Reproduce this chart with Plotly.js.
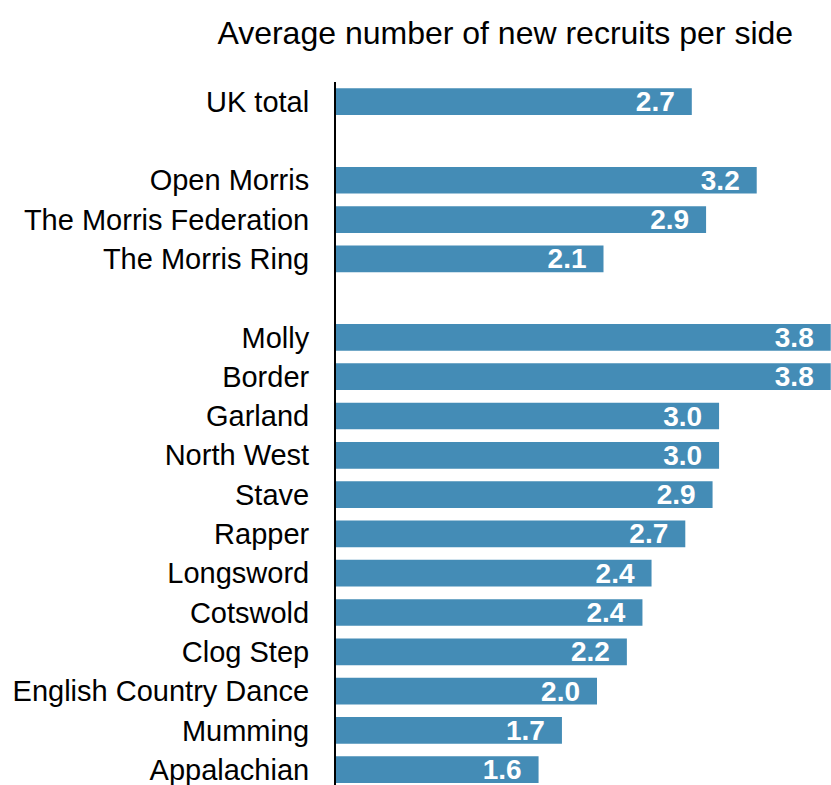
<!DOCTYPE html>
<html>
<head>
<meta charset="utf-8">
<script src="https://cdn.plot.ly/plotly-3.0.1.min.js"></script>
<style>html,body{margin:0;padding:0;background:#fff;}#chart{width:831px;height:785px;}</style>
</head>
<body>
<div id="chart"></div>
<script>
// Row order top to bottom; blank entries are the spacer rows
const rowOrder = ["UK total", " ", "Open Morris", "The Morris Federation", "The Morris Ring", "  ",
  "Molly", "Border", "Garland", "North West", "Stave", "Rapper", "Longsword", "Cotswold",
  "Clog Step", "English Country Dance", "Mumming", "Appalachian"];

const categories = ["UK total", "Open Morris", "The Morris Federation", "The Morris Ring",
  "Molly", "Border", "Garland", "North West", "Stave", "Rapper", "Longsword", "Cotswold",
  "Clog Step", "English Country Dance", "Mumming", "Appalachian"];

const values = [2.74, 3.24, 2.85, 2.06,
  3.81, 3.81, 2.95, 2.95, 2.90, 2.69, 2.43, 2.36,
  2.24, 2.01, 1.74, 1.56];

const trace = {
  type: "bar",
  orientation: "h",
  y: categories,
  x: values,
  width: 0.68,
  marker: {color: "#448cb6", line: {width: 0}},
  texttemplate: "%{x:.1f}\u2002",
  textposition: "inside",
  insidetextanchor: "end",
  constraintext: "none",
  textangle: 0,
  textfont: {family: "Liberation Sans, Arial, sans-serif", size: 28, color: "#ffffff", weight: "bold"},
  hoverinfo: "skip"
};

const layout = {
  width: 831,
  height: 785,
  margin: {l: 336, r: 0, t: 82, b: 0},
  paper_bgcolor: "#ffffff",
  plot_bgcolor: "#ffffff",
  showlegend: false,
  font: {family: "Liberation Sans, Arial, sans-serif", color: "#000000"},
  title: {
    text: "Average number of new recruits per side",
    font: {size: 32, color: "#000000"},
    xref: "container", yref: "container",
    x: 0.608, xanchor: "center",
    y: 0.958, yanchor: "middle"
  },
  xaxis: {
    range: [0, 3.812],
    showgrid: false, zeroline: false, showline: false,
    showticklabels: false, ticks: "", fixedrange: true
  },
  yaxis: {
    type: "category",
    categoryorder: "array",
    categoryarray: rowOrder,
    range: [17.39, -0.5],
    showgrid: false, zeroline: false,
    showline: true, linecolor: "#000000", linewidth: 2,
    ticks: "", ticklabelstandoff: 19,
    tickfont: {size: 29, color: "#000000"},
    fixedrange: true
  }
};

Plotly.newPlot("chart", [trace], layout, {displayModeBar: false, staticPlot: true});
</script>
</body>
</html>
